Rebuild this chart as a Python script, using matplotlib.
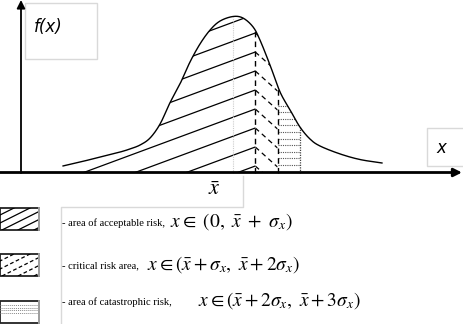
import numpy as np
import matplotlib
matplotlib.use("Agg")
import matplotlib.pyplot as plt
from matplotlib.patches import Polygon, Rectangle

plt.rcParams['mathtext.fontset'] = 'stix'

# ---------------- data (x in sigma units relative to mean, f normalised to peak) ----
curve_u = [-7.62, -6.86, -5.96, -5.07, -4.62, -4.17, -3.72, -3.27, -2.83, -2.38,
           -1.93, -1.48, -1.03, -0.58, 0.00, 0.45, 0.90, 1.21, 1.66, 2.11,
           2.56, 3.00, 3.45, 3.90, 4.80, 5.70, 6.68]
curve_f = [0.042, 0.067, 0.099, 0.131, 0.151, 0.176, 0.221, 0.311, 0.446, 0.567,
           0.708, 0.824, 0.913, 0.971, 1.000, 0.990, 0.933, 0.849, 0.689, 0.516,
           0.401, 0.292, 0.215, 0.170, 0.119, 0.083, 0.061]
x_mean = 0.0
sigma_bounds = [1.0, 2.0, 3.0]
legend_words = ["- area of acceptable risk,",
                "- critical risk area,",
                "- area of catastrophic risk,"]
legend_math = [r"$x \in \ (0,\ \bar{x}\ +\ \sigma_x)$",
               r"$x \in (\bar{x} + \sigma_x,\ \bar{x} + 2\sigma_x)$",
               r"$x \in (\bar{x} + 2\sigma_x,\ \bar{x} + 3\sigma_x)$"]

# ---------------- figure / coordinate setup ----------------
W, H = 464, 324
fig = plt.figure(figsize=(W / 100, H / 100), dpi=100)
PX0, PXS = 233.0, 22.3      # pixel of mean, pixels per sigma
PY0, PYS = 172.5, 156.0     # baseline pixel, pixels per unit f

ax = fig.add_axes([0, 0, 1, 1])
ax.set_xlim(-PX0 / PXS, (W - PX0) / PXS)
ax.set_ylim(-(H - PY0) / PYS, PY0 / PYS)
ax.axis('off')
pax = fig.add_axes([0, 0, 1, 1], facecolor='none')
pax.set_xlim(0, W)
pax.set_ylim(H, 0)
pax.axis('off')


def catmull(xs, ys, n=20):
    P = np.column_stack([np.asarray(xs, float), np.asarray(ys, float)])
    P = np.vstack([2 * P[0] - P[1], P, 2 * P[-1] - P[-2]])
    out = []
    for i in range(1, len(P) - 2):
        p0, p1, p2, p3 = P[i - 1], P[i], P[i + 1], P[i + 2]
        t = np.linspace(0, 1, n, endpoint=False)[:, None]
        pts = 0.5 * ((2 * p1) + (-p0 + p2) * t + (2 * p0 - 5 * p1 + 4 * p2 - p3) * t ** 2
                     + (-p0 + 3 * p1 - 3 * p2 + p3) * t ** 3)
        out.append(pts)
    out.append(P[-2][None, :])
    out = np.vstack(out)
    return out[:, 0], out[:, 1]


cu, cf = catmull(curve_u, curve_f)
fcurve = lambda u: np.interp(u, cu, cf)


def region(u0, u1):
    m = (cu >= u0) & (cu <= u1)
    uu = np.concatenate([[u0], cu[m], [u1]])
    ff = np.concatenate([[fcurve(u0)], cf[m], [fcurve(u1)]])
    verts = np.vstack([np.column_stack([uu, ff]), [[u1, 0], [u0, 0]]])
    p = Polygon(verts, closed=True, facecolor='none', edgecolor='none')
    ax.add_patch(p)
    return p


b1, b2, b3 = sigma_bounds
r1 = region(curve_u[0], b1)
r2 = region(b1, b2)
r3 = region(b2, b3)

m1 = 0.37 * PXS / PYS          # acceptable-area hatch slope
m2 = -0.9 * PXS / PYS          # critical-area hatch slope
uu = np.array([-9, b1])
for k in range(-3, 12):
    fk = (PY0 - (33 + 19 * k)) / PYS
    ln, = ax.plot(uu, fk + m1 * (uu - b1), color='black', lw=0.9)
    ln.set_clip_path(r1)
uu2 = np.array([b1, b2])
for k in range(-3, 12):
    fk = (PY0 - (33 + 19 * k)) / PYS
    ln, = ax.plot(uu2, fk + m2 * (uu2 - b1), color='black', lw=0.9, ls=(0, (4, 3)))
    ln.set_clip_path(r2)
for j in range(0, 10):
    fj = (PY0 - (165 - 6.6 * j)) / PYS
    ln, = ax.plot([b2, b3], [fj, fj], color='#555555', lw=0.8, ls=(0, (1, 1)))
    ln.set_clip_path(r3)

# boundaries
ax.plot([b1, b1], [0, fcurve(b1)], color='black', lw=1.0, ls=(0, (4, 3)))
ax.plot([b2, b2], [0, fcurve(b2)], color='black', lw=1.0, ls=(0, (4, 3)))
ax.plot([b3, b3], [0, fcurve(b3)], color='#444444', lw=0.9, ls=(0, (1, 1)))
ax.plot([x_mean, x_mean], [0, fcurve(x_mean)], color='#cccccc', lw=0.8, ls=(0, (1, 1)))

# curve
ax.plot(cu, cf, color='black', lw=1.0)

# axes arrows (pixel coords)
pax.annotate('', xy=(21, 0), xytext=(21, 173),
             arrowprops=dict(arrowstyle='-|>', color='black', lw=1.3, mutation_scale=12, shrinkA=0, shrinkB=0))
pax.annotate('', xy=(462, 172.5), xytext=(0, 172.5),
             arrowprops=dict(arrowstyle='-|>', color='black', lw=2.0, mutation_scale=12, shrinkA=0, shrinkB=0))

# label boxes
gray = '#d9d9d9'
pax.add_patch(Rectangle((25, 3), 72, 56, fill=False, edgecolor=gray, lw=1))
pax.text(34, 27, 'f(x)', fontsize=12, style='italic', family='DejaVu Sans', va='center', ha='left')
pax.plot([470, 427, 427, 470], [128, 128, 166, 166], color=gray, lw=1)
pax.text(441, 148, 'x', fontsize=12, style='italic', family='DejaVu Sans', va='center', ha='center')
pax.text(214, 189, r'$\bar{x}$', fontsize=16, va='center', ha='center')
pax.plot([243, 243, 61, 61], [176, 207, 207, 324], color=gray, lw=1)

# legend swatches
sw_y = [208, 254, 301]
for i, y0 in enumerate(sw_y):
    rect = Rectangle((0, y0), 39, 22, facecolor='white', edgecolor='#222222', lw=1.3)
    pax.add_patch(rect)
    if i == 0:
        for x0 in np.arange(-30, 60, 16):
            l, = pax.plot([x0, x0 + 60], [y0 + 22, y0 + 22 - 30], color='black', lw=0.9)
            l.set_clip_path(rect)
    elif i == 1:
        for x0 in np.arange(-30, 60, 16):
            l, = pax.plot([x0, x0 + 60], [y0 + 22, y0 + 22 - 30], color='black', lw=0.9, ls=(0, (3, 2)))
            l.set_clip_path(rect)
    else:
        for yy in np.arange(y0 + 4, y0 + 14, 2.5):
            l, = pax.plot([0, 39], [yy, yy], color='#888888', lw=0.7, ls=(0, (1, 1)))
            l.set_clip_path(rect)
    pax.plot([39, 39], [y0, y0 + 22], color='#aaaaaa', lw=1.3)

# legend texts
for words, math, y, xm in zip(legend_words, legend_math, [223, 266, 302], [170, 147, 198]):
    pax.text(62, y, words, fontsize=7.6, family='Liberation Serif', va='center', ha='left')
    pax.text(xm, y - 1, math, fontsize=14, va='center', ha='left')

fig.savefig('out.png', dpi=100)
